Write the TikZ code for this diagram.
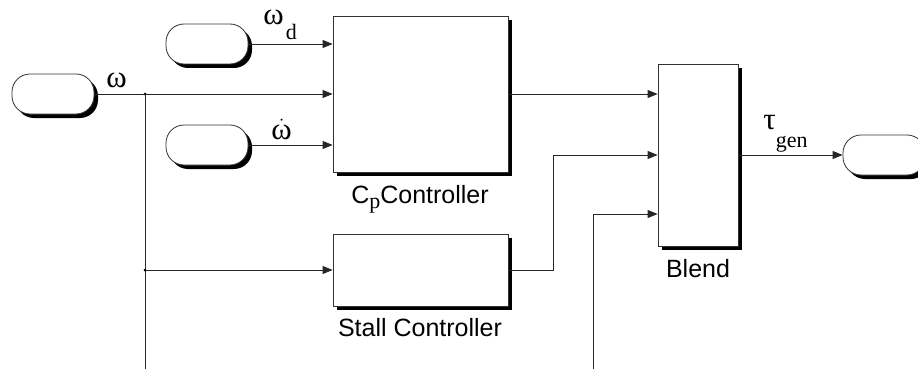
\documentclass[tikz,border=0pt]{standalone}
\usepackage{fontspec}
\setmainfont{Liberation Sans}
\newfontfamily\grk{Liberation Serif}
\usetikzlibrary{arrows.meta,shadows}
\newcommand{\lowtxt}[2]{\raisebox{#1}{\grk\fontsize{22}{22}\selectfont #2}}

\begin{document}
\begin{tikzpicture}[x=1pt,y=-1pt,line width=0.8pt,
  blk/.style={draw=black!80,fill=white,inner sep=0pt,
    drop shadow={shadow xshift=4pt,shadow yshift=-4pt,fill=black,opacity=1}},
  term/.style={blk,rounded corners=18pt,minimum width=82pt,minimum height=40pt},
  sig/.style={draw=black!85,-{Triangle[length=10pt,width=8pt]}},
  wire/.style={draw=black!85},
  gk/.style={font=\grk\fontsize{31}{34}\selectfont,inner sep=0pt,anchor=base west},
  blklab/.style={font=\fontsize{25}{30}\selectfont,inner sep=0pt,anchor=base}]
  \useasboundingbox (0,0) rectangle (918,369);
  \node[term] (win) at (53,94) {};
  \node[term] (wd) at (207,44) {};
  \node[term] (wdot) at (207,145) {};
  \node[term] (tout) at (884,155) {};
  \node[blk,minimum width=175pt,minimum height=156pt] (cp) at (420.5,94) {};
  \node[blk,minimum width=175pt,minimum height=72pt] (stall) at (420.5,270) {};
  \node[blk,minimum width=80pt,minimum height=182pt] (blend) at (698,155) {};
  \node[blklab] (cplab) at (420,203) {C\lowtxt{-5pt}{p}Controller};
  \node[blklab] (stlab) at (420,336) {Stall Controller};
  \node[blklab] (bllab) at (698,277) {Blend};
  \node[gk] (lw) at (106,88) {ω};
  \node[gk] (lwd) at (263,25) {ω\kern2pt\lowtxt{-15pt}{d}};
  \node[gk] (lwdot) at (271,139) {$\dot{\hbox{ω}}$};
  \node[gk] (ltau) at (763,129) {τ\lowtxt{-18pt}{gen}};
  \coordinate (j1) at (145,94);
  \coordinate (j2) at (145,270);
  \coordinate (jb) at (145,369);
  \coordinate (kb) at (593,369);
  \coordinate (k2) at (553,155);
  \coordinate (k3) at (593,214);
  \draw[sig] (win.east) -- (cp.west);
  \draw[sig] (wd.east) -- (wd.east -| cp.west);
  \draw[sig] (wdot.east) -- (wdot.east -| cp.west);
  \draw[wire] (j1) -- (jb) -- (kb) -- (k3);
  \draw[sig] (j2) -- (stall.west);
  \draw[sig] (cp.east) -- (cp.east -| blend.west);
  \draw[sig] (stall.east) -| (k2) -- (k2 -| blend.west);
  \draw[sig] (k3) -- (k3 -| blend.west);
  \draw[sig] (blend.east) -- (tout.west);
  \fill (j1) circle (1.5pt) (j2) circle (1.5pt);
\end{tikzpicture}
\end{document}
